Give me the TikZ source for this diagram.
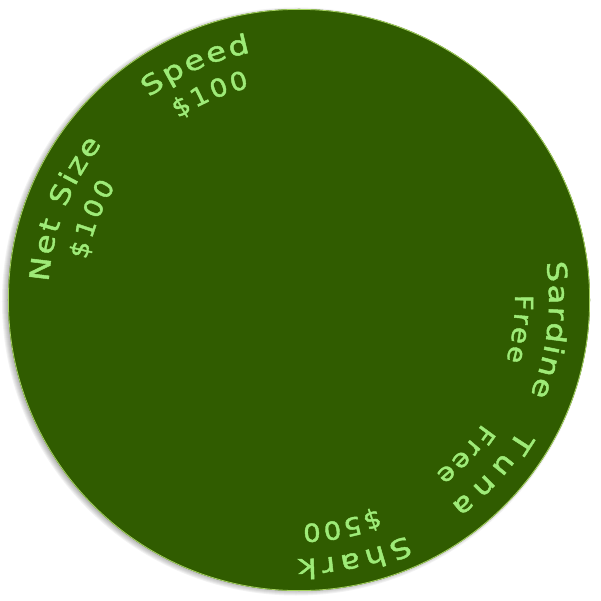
\documentclass[tikz,border=0pt]{standalone}
\usepackage{fontspec}
\newfontfamily\lblfamily{DejaVu Sans}[FakeBold=1.5]
\definecolor{wheelgreen}{RGB}{48,92,0}
\definecolor{rimgreen}{RGB}{165,210,95}
\definecolor{lblgreen}{RGB}{158,235,120}
\newcommand\awfont[1]{\lblfamily\fontsize{#1pt}{#1pt}\selectfont}
% #1 baseline radius, #2 centre angle, #3 total arc length, #4 font size, #5 xscale,
% #6 letters with their advance widths (em)
\newcommand\arcword[6]{%
  \gdef\awsum{0}\gdef\awcnt{0}%
  \foreach \awc/\aww in {#6}{%
    \pgfmathsetmacro\awt{\awsum+#5*#4*\aww}\xdef\awsum{\awt}%
    \pgfmathsetmacro\awt{\awcnt+1}\xdef\awcnt{\awt}%
  }%
  \pgfmathsetmacro\awgap{(#3-\awsum)/(\awcnt-1)}%
  \gdef\awpos{0}%
  \foreach \awc/\aww in {#6}{%
    \pgfmathsetmacro\awcw{#5*#4*\aww}%
    \pgfmathsetmacro\awang{#2+(#3/2-\awpos-0.5*\awcw)/#1*180/pi}%
    \pgfmathsetmacro\awrot{\awang-90}%
    \begin{scope}[shift={(\awang:#1pt)}, rotate=\awrot, xscale=#5]
      \node[lbl, anchor=base, transform shape] at (0,0) {\awfont{#4}\awc};
    \end{scope}
    \pgfmathsetmacro\awt{\awpos+\awcw+\awgap}\xdef\awpos{\awt}%
  }%
}
\begin{document}
\begin{tikzpicture}[x=1pt,y=1pt, lbl/.style={text=lblgreen, inner sep=0pt, outer sep=0pt}]
\useasboundingbox (-299,-301) rectangle (301,300);
% soft shadow
\foreach \k in {0,...,7} \fill[black, opacity=0.05] (-3,-1.5) circle ({287+\k});
% wheel
\fill[wheelgreen] (0,0) circle (291);
\draw[rimgreen, line width=0.8pt] (0,0) circle (290.6);
% labels
\arcword{252}{113.8}{112}{27}{1.2}{S/0.635,p/0.635,e/0.615,e/0.615,d/0.635}
\arcword{218}{113.4}{78}{25}{1.1}{\$/0.636,1/0.636,0/0.636,0/0.636}
\arcword{251}{158.8}{150}{27}{1.2}{N/0.748,e/0.615,t/0.392,\relax/0.318,S/0.635,i/0.278,z/0.525,e/0.615}
\arcword{216}{158.7}{80}{25}{1.1}{\$/0.636,1/0.636,0/0.636,0/0.636}
\arcword{250}{-6.8}{135}{27}{1.2}{S/0.635,a/0.613,r/0.411,d/0.635,i/0.278,n/0.634,e/0.615}
\arcword{216}{-7.5}{67}{25}{1.1}{F/0.575,r/0.411,e/0.615,e/0.615}
\arcword{255}{-42}{102}{27}{1.2}{T/0.611,u/0.634,n/0.634,a/0.613}
\arcword{221}{-42.9}{69}{25}{1.1}{F/0.575,r/0.411,e/0.615,e/0.615}
\arcword{259}{-77.9}{112}{27}{1.2}{S/0.635,h/0.634,a/0.613,r/0.411,k/0.579}
\arcword{224}{-79.2}{77}{25}{1.1}{\$/0.636,5/0.636,0/0.636,0/0.636}
\end{tikzpicture}
\end{document}
